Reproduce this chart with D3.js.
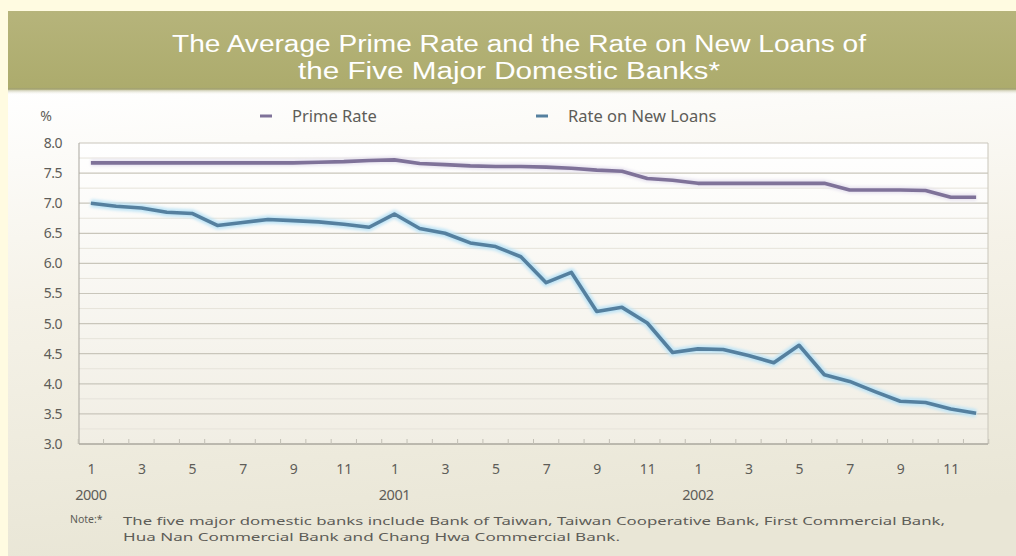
<!DOCTYPE html>
<html>
<head>
<meta charset="utf-8">
<script src="https://cdn.jsdelivr.net/npm/d3@7"></script>
<style>
  html, body { margin: 0; padding: 0; background: #fffbe1; }
  svg { display: block; }
  text { font-family: "Noto Sans", "DejaVu Sans", sans-serif; }
  text.title { font-family: "Liberation Sans", Arial, sans-serif; }
</style>
</head>
<body>
<svg id="chart" width="1016" height="556"></svg>
<script>
// Monthly rates, Jan 2000 – Dec 2002 (%)
const months = d3.range(36);
const monthLabels = ["1","3","5","7","9","11"];
const yearLabels = ["2000", "2001", "2002"];
const primeRate = [
  7.67, 7.67, 7.67, 7.67, 7.67, 7.67, 7.67, 7.67, 7.67, 7.68, 7.69, 7.71,
  7.72, 7.66, 7.64, 7.62, 7.61, 7.61, 7.60, 7.58, 7.55, 7.53, 7.41, 7.38,
  7.33, 7.33, 7.33, 7.33, 7.33, 7.33, 7.22, 7.22, 7.22, 7.21, 7.10, 7.10
];
const newLoanRate = [
  7.00, 6.95, 6.92, 6.85, 6.83, 6.63, 6.68, 6.73, 6.71, 6.69, 6.65, 6.60,
  6.82, 6.58, 6.50, 6.34, 6.28, 6.11, 5.68, 5.85, 5.20, 5.27, 5.01, 4.52,
  4.58, 4.57, 4.47, 4.35, 4.64, 4.15, 4.04, 3.87, 3.71, 3.69, 3.58, 3.51
];
const yTicks = [3.0, 3.5, 4.0, 4.5, 5.0, 5.5, 6.0, 6.5, 7.0, 7.5, 8.0];
const seriesNames = ["Prime Rate", "Rate on New Loans"];
const titleLines = [
  "The Average Prime Rate and the Rate on New Loans of",
  "the Five Major Domestic  Banks*"
];
const noteLines = [
  "The five major domestic banks include  Bank of Taiwan, Taiwan Cooperative Bank, First Commercial Bank,",
  "Hua Nan Commercial Bank and Chang Hwa Commercial Bank."
];

const svg = d3.select("#chart");
const defs = svg.append("defs");

// panel gradients
const bodyGrad = defs.append("linearGradient").attr("id", "bodyGrad")
  .attr("x1", 0).attr("y1", 0).attr("x2", 0.15).attr("y2", 1);
bodyGrad.append("stop").attr("offset", "0%").attr("stop-color", "#ffffff");
bodyGrad.append("stop").attr("offset", "45%").attr("stop-color", "#f5f2e8");
bodyGrad.append("stop").attr("offset", "100%").attr("stop-color", "#e9e6d6");

const titleGrad = defs.append("linearGradient").attr("id", "titleGrad")
  .attr("x1", 0).attr("y1", 0).attr("x2", 0).attr("y2", 1);
titleGrad.append("stop").attr("offset", "0%").attr("stop-color", "#b6b47b");
titleGrad.append("stop").attr("offset", "100%").attr("stop-color", "#acab6c");

const shade = defs.append("linearGradient").attr("id", "shade")
  .attr("x1", 0).attr("y1", 0).attr("x2", 0).attr("y2", 1);
shade.append("stop").attr("offset", "0%").attr("stop-color", "#9d9c67");
shade.append("stop").attr("offset", "100%").attr("stop-color", "#ffffff").attr("stop-opacity", 0);

const plotGrad = defs.append("linearGradient").attr("id", "plotGrad")
  .attr("x1", 0).attr("y1", 0).attr("x2", 0).attr("y2", 1);
plotGrad.append("stop").attr("offset", "0%").attr("stop-color", "#ffffff");
plotGrad.append("stop").attr("offset", "100%").attr("stop-color", "#f1eee4");

const glow = defs.append("filter").attr("id", "glow")
  .attr("x", "-5%").attr("y", "-20%").attr("width", "110%").attr("height", "140%");
glow.append("feGaussianBlur").attr("stdDeviation", 1.6);

// panel
svg.append("rect").attr("x", 8).attr("y", 90).attr("width", 1008).attr("height", 466)
  .attr("fill", "url(#bodyGrad)");
svg.append("rect").attr("x", 8).attr("y", 11).attr("width", 1008).attr("height", 79)
  .attr("fill", "url(#titleGrad)");
svg.append("rect").attr("x", 8).attr("y", 88).attr("width", 1008).attr("height", 7)
  .attr("fill", "url(#shade)");

// title
svg.append("g").selectAll("text").data(titleLines).join("text")
  .attr("class", "title")
  .attr("x", (d, i) => i === 0 ? 519 : 509).attr("y", (d, i) => 52 + i * 27)
  .attr("text-anchor", "middle")
  .attr("fill", "#ffffff")
  .attr("font-size", 23)
  .attr("textLength", (d, i) => i === 0 ? 694 : 422)
  .attr("lengthAdjust", "spacingAndGlyphs")
  .text(d => d);

// scales
const margin = { left: 79, right: 988, top: 143, bottom: 444 };
const x = d3.scalePoint().domain(months).range([margin.left, margin.right]).padding(0.47);
const y = d3.scaleLinear().domain([3, 8]).range([margin.bottom, margin.top]);

// plot background
svg.append("rect").attr("x", margin.left).attr("y", margin.top)
  .attr("width", margin.right - margin.left).attr("height", margin.bottom - margin.top)
  .attr("fill", "url(#plotGrad)");

// horizontal gridlines
svg.append("g").selectAll("line").data(yTicks.filter(v => v > 3)).join("line")
  .attr("x1", margin.left).attr("x2", margin.right)
  .attr("y1", d => y(d)).attr("y2", d => y(d))
  .attr("stroke", "#c9c6bb").attr("stroke-width", 1.2);
// faint inner lines
svg.append("g").selectAll("line").data(yTicks.filter(v => v < 8)).join("line")
  .attr("x1", margin.left).attr("x2", margin.right)
  .attr("y1", d => y(d + 0.25)).attr("y2", d => y(d + 0.25))
  .attr("stroke", "#e6e3da").attr("stroke-width", 1);

// frame
svg.append("line").attr("x1", margin.left).attr("x2", margin.left)
  .attr("y1", margin.top).attr("y2", margin.bottom)
  .attr("stroke", "#a9a69e").attr("stroke-width", 1);
svg.append("line").attr("x1", margin.right).attr("x2", margin.right)
  .attr("y1", margin.top).attr("y2", margin.bottom)
  .attr("stroke", "#c9c6bb").attr("stroke-width", 1);
svg.append("line").attr("x1", margin.left).attr("x2", margin.right)
  .attr("y1", margin.bottom).attr("y2", margin.bottom)
  .attr("stroke", "#aaa79e").attr("stroke-width", 1.3);

// y axis labels
const yAxis = d3.axisLeft(y).tickValues(yTicks).tickFormat(d3.format(".1f")).tickSize(0).tickPadding(17);
const yg = svg.append("g").attr("transform", `translate(${margin.left},0)`).call(yAxis);
yg.select(".domain").remove();
yg.selectAll("text").attr("font-size", 14).attr("fill", "#5e5d58").attr("letter-spacing", "-0.5");

// bottom ticks between months
const step = x.step();
svg.append("g").selectAll("line").data(d3.range(37)).join("line")
  .attr("x1", d => x(0) - step / 2 + d * step).attr("x2", d => x(0) - step / 2 + d * step)
  .attr("y1", margin.bottom).attr("y2", margin.bottom - 5)
  .attr("stroke", "#c2bfb5").attr("stroke-width", 1);

// x axis labels
const xAxis = d3.axisBottom(x)
  .tickValues(months.filter(m => m % 2 === 0))
  .tickFormat(m => monthLabels[(m % 12) / 2])
  .tickSize(0).tickPadding(20);
const xg = svg.append("g").attr("transform", `translate(0,${margin.bottom})`).call(xAxis);
xg.select(".domain").remove();
xg.selectAll("text").attr("font-size", 14).attr("fill", "#5e5d58");

svg.append("g").selectAll("text").data(yearLabels).join("text")
  .attr("x", (d, i) => x(i * 12)).attr("y", 500)
  .attr("text-anchor", "middle")
  .attr("font-size", 14.5).attr("fill", "#5e5d58").attr("letter-spacing", "-0.5")
  .text(d => d);

// % unit
svg.append("text").attr("x", 46).attr("y", 121).attr("text-anchor", "middle")
  .attr("font-size", 14).attr("fill", "#5e5d58").text("%");

// lines
const line = d3.line().x((d, i) => x(i)).y(d => y(d));

svg.append("path").datum(newLoanRate).attr("d", line)
  .attr("fill", "none").attr("stroke", "#bfe4f6").attr("stroke-width", 8)
  .attr("stroke-linejoin", "round").attr("filter", "url(#glow)");
svg.append("path").datum(newLoanRate).attr("d", line)
  .attr("fill", "none").attr("stroke", "#55809f").attr("stroke-width", 3.6)
  .attr("stroke-linejoin", "round");

svg.append("path").datum(primeRate).attr("d", line)
  .attr("fill", "none").attr("stroke", "#e7e3f0").attr("stroke-width", 7)
  .attr("stroke-linejoin", "round").attr("filter", "url(#glow)");
svg.append("path").datum(primeRate).attr("d", line)
  .attr("fill", "none").attr("stroke", "#7f7299").attr("stroke-width", 3.6)
  .attr("stroke-linejoin", "round");

// legend
const legendColors = ["#7f7299", "#55809f"];
const legendX = [260, 536];
const lg = svg.append("g").selectAll("g").data(seriesNames).join("g")
  .attr("transform", (d, i) => `translate(${legendX[i]},116)`);
lg.append("line").attr("x1", 0).attr("x2", 12).attr("y1", 0).attr("y2", 0)
  .attr("stroke", (d, i) => legendColors[i]).attr("stroke-width", 3);
lg.append("text").attr("x", 32).attr("y", 6)
  .attr("font-size", 16.5).attr("fill", "#5e5d58")
  .text(d => d);

// note
svg.append("text").attr("x", 70).attr("y", 523)
  .attr("font-size", 10.5).attr("fill", "#5e5d58").text("Note:*");
svg.append("g").selectAll("text").data(noteLines).join("text")
  .attr("x", 123).attr("y", (d, i) => 525 + i * 16)
  .attr("font-size", 11.5).attr("fill", "#5e5d58")
  .attr("textLength", (d, i) => i === 0 ? 822 : 497)
  .attr("lengthAdjust", "spacingAndGlyphs")
  .text(d => d);
</script>
</body>
</html>
